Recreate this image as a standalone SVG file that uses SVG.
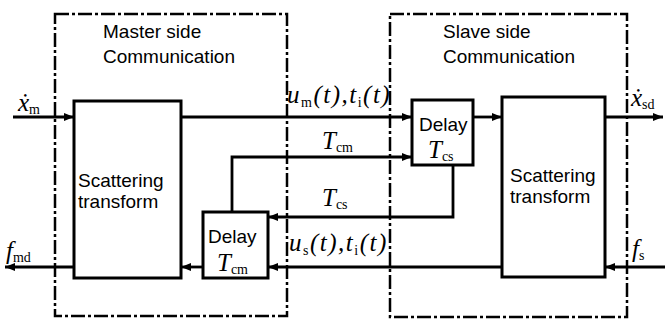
<svg xmlns="http://www.w3.org/2000/svg" width="665" height="324" viewBox="0 0 665 324">
<style>
.zone{fill:none;stroke:#000;stroke-width:2.5;stroke-dasharray:14 3 3 3}
.box{fill:#fff;stroke:#000;stroke-width:3}
.ln{fill:none;stroke:#000;stroke-width:2.8;marker-end:url(#ah)}
.t{font-family:"Liberation Sans",Arial,sans-serif;font-size:19px;fill:#000}
.m{font-family:"Liberation Serif","Times New Roman",serif;font-style:italic;font-size:25px;fill:#000}
.s{font-size:14px;font-style:normal}
.w{letter-spacing:1.5px}
</style>
<defs>
<marker id="ah" viewBox="0 0 10 8" refX="10" refY="4" markerWidth="10" markerHeight="8" markerUnits="userSpaceOnUse" orient="auto">
<path d="M0 0 L10 4 L0 8 Z" fill="#000"/>
</marker>
</defs>
<g id="master-zone">
<rect class="zone" x="55" y="14" width="232" height="302"/>
<text class="t" x="103" y="38">Master side</text>
<text class="t" x="103" y="63">Communication</text>
</g>
<g id="slave-zone">
<rect class="zone" x="390" y="14" width="237" height="303"/>
<text class="t" x="443" y="38">Slave side</text>
<text class="t" x="443" y="63">Communication</text>
</g>
<g id="master-scatter">
<rect class="box" x="74" y="101" width="107" height="177"/>
<text class="t" x="78" y="187">Scattering</text>
<text class="t" x="78" y="208">transform</text>
</g>
<g id="slave-scatter">
<rect class="box" x="502" y="97" width="103" height="180"/>
<text class="t" x="510" y="182">Scattering</text>
<text class="t" x="510" y="203">transform</text>
</g>
<g id="slave-delay">
<rect class="box" x="412" y="100" width="61" height="65"/>
<text class="t" x="419" y="131">Delay</text>
<text class="m" x="428" y="158">T<tspan class="s" dy="3">cs</tspan></text>
</g>
<g id="master-delay">
<rect class="box" x="203" y="212" width="65" height="66"/>
<text class="t" x="208" y="243">Delay</text>
<text class="m" x="217" y="271">T<tspan class="s" dy="3">cm</tspan></text>
</g>
<g id="connectors">
<path class="ln" d="M13 117 H74"/>
<path class="ln" d="M181 117 H412"/>
<path class="ln" d="M473 117 H502"/>
<path class="ln" d="M605 117 H663"/>
<path class="ln" d="M232 212 V157 H412"/>
<path class="ln" d="M453 165 V217 H268"/>
<path class="ln" d="M502 267 H268"/>
<path class="ln" d="M203 267 H181"/>
<path class="ln" d="M74 267 H5"/>
<path class="ln" d="M665 267 H605"/>
</g>
<g id="labels">
<text class="m" x="18" y="111">ẋ<tspan class="s" dy="3">m</tspan></text>
<text class="m" x="6" y="259">f<tspan class="s" dy="3">md</tspan></text>
<text class="m" x="631" y="106">ẋ<tspan class="s" dy="3">sd</tspan></text>
<text class="m" x="632" y="257">f<tspan class="s" dy="3">s</tspan></text>
<text class="m w" x="287" y="103">u<tspan class="s" dy="4">m</tspan><tspan dy="-4">(t),t</tspan><tspan class="s" dy="4">i</tspan><tspan dy="-4">(t)</tspan></text>
<text class="m" x="322" y="149">T<tspan class="s" dy="3">cm</tspan></text>
<text class="m" x="322" y="206">T<tspan class="s" dy="3">cs</tspan></text>
<text class="m w" x="289" y="251">u<tspan class="s" dy="4">s</tspan><tspan dy="-4">(t),t</tspan><tspan class="s" dy="4">i</tspan><tspan dy="-4">(t)</tspan></text>
</g>
</svg>
